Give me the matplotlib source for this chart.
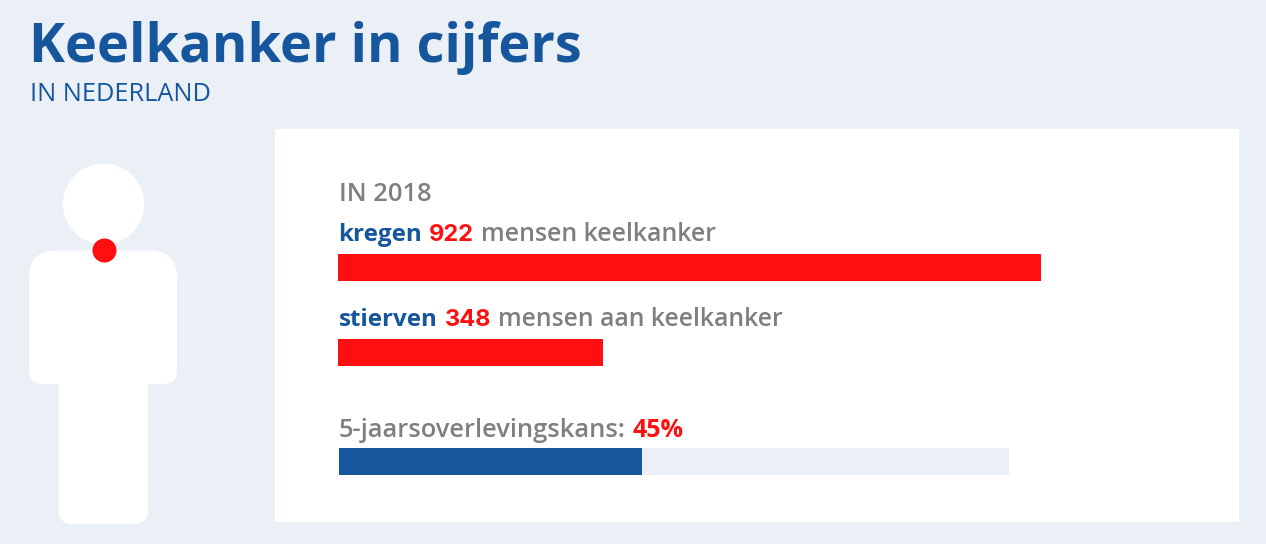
import matplotlib
matplotlib.use("Agg")
import matplotlib.pyplot as plt
from matplotlib.patches import Rectangle, Circle, FancyBboxPatch

BLUE = "#16569d"
RED = "#ff0f0f"
GREY = "#7f7f7f"
BG = "#ebf0f7"

title = "Keelkanker in cijfers"
subtitle = "IN NEDERLAND"
year_label = "IN 2018"

cases = 922
deaths = 348
survival = 45

# pixels per person, bars start at x=338
PX_PER_PERSON = (1041 - 338) / cases
SURV_LEFT = 339.3
SURV_TRACK = 1009 - SURV_LEFT
PX_PER_PCT = 6.73

plt.rcParams["font.family"] = ["Open Sans", "DejaVu Sans"]

fig = plt.figure(figsize=(12.66, 5.44), dpi=100, facecolor=BG)
ax = fig.add_axes([0, 0, 1, 1])
ax.set_xlim(0, 1266)
ax.set_ylim(544, 0)
ax.axis("off")


def parts(x, y, pieces, gap=7):
    # draw text pieces one after the other on the same baseline
    r = fig.canvas.get_renderer()
    for s, col, w, size, fam in pieces:
        t = ax.text(x, y, s, color=col, fontsize=size, fontweight=w, family=fam, va="baseline", ha="left")
        x = t.get_window_extent(r).x1 + gap


OPEN = "Open Sans"
NUM = "Inter"

ax.text(29, 62, title, color=BLUE, fontsize=39, fontweight="bold", va="baseline")
ax.text(30, 101, subtitle, color=BLUE, fontsize=18.2, va="baseline")

# white card
ax.add_patch(Rectangle((275, 129), 964, 393, fc="white", ec="none"))

# figure
ax.add_patch(FancyBboxPatch((29, 250.5), 148, 90, boxstyle="round,pad=0,rounding_size=27", fc="white", ec="none"))
ax.add_patch(FancyBboxPatch((29, 300), 148, 84, boxstyle="round,pad=0,rounding_size=13", fc="white", ec="none"))
ax.add_patch(FancyBboxPatch((58.5, 340), 89.5, 184, boxstyle="round,pad=0,rounding_size=14", fc="white", ec="none"))
ax.add_patch(Circle((103.5, 204), 40.5, fc="white", ec="none"))
ax.add_patch(Circle((104.5, 250.5), 12, fc=RED, ec="none"))

ax.text(339, 201, year_label, color=GREY, fontsize=18.4, fontweight="semibold", va="baseline")

parts(338.4, 241, [("kregen", BLUE, "bold", 17.5, OPEN), (str(cases), RED, "bold", 17, NUM),
                   ("mensen keelkanker", GREY, "semibold", 17.9, OPEN)])
ax.barh(267.6, cases * PX_PER_PERSON, height=27, left=338, color=RED)

parts(339, 326, [("stierven", BLUE, "bold", 17.4, OPEN), (str(deaths), RED, "bold", 17, NUM),
                 ("mensen aan keelkanker", GREY, "semibold", 17.8, OPEN)])
ax.barh(352.6, deaths * PX_PER_PERSON, height=27, left=338, color=RED)

parts(339, 437, [("5-jaarsoverlevingskans:", GREY, "semibold", 18.4, OPEN), (f"{survival}%", RED, "bold", 18, OPEN)])
ax.barh(461.6, SURV_TRACK, height=27, left=SURV_LEFT, color=BG)
ax.barh(461.6, survival * PX_PER_PCT, height=27, left=SURV_LEFT, color=BLUE)

fig.savefig("out.png", dpi=100, facecolor=BG)
